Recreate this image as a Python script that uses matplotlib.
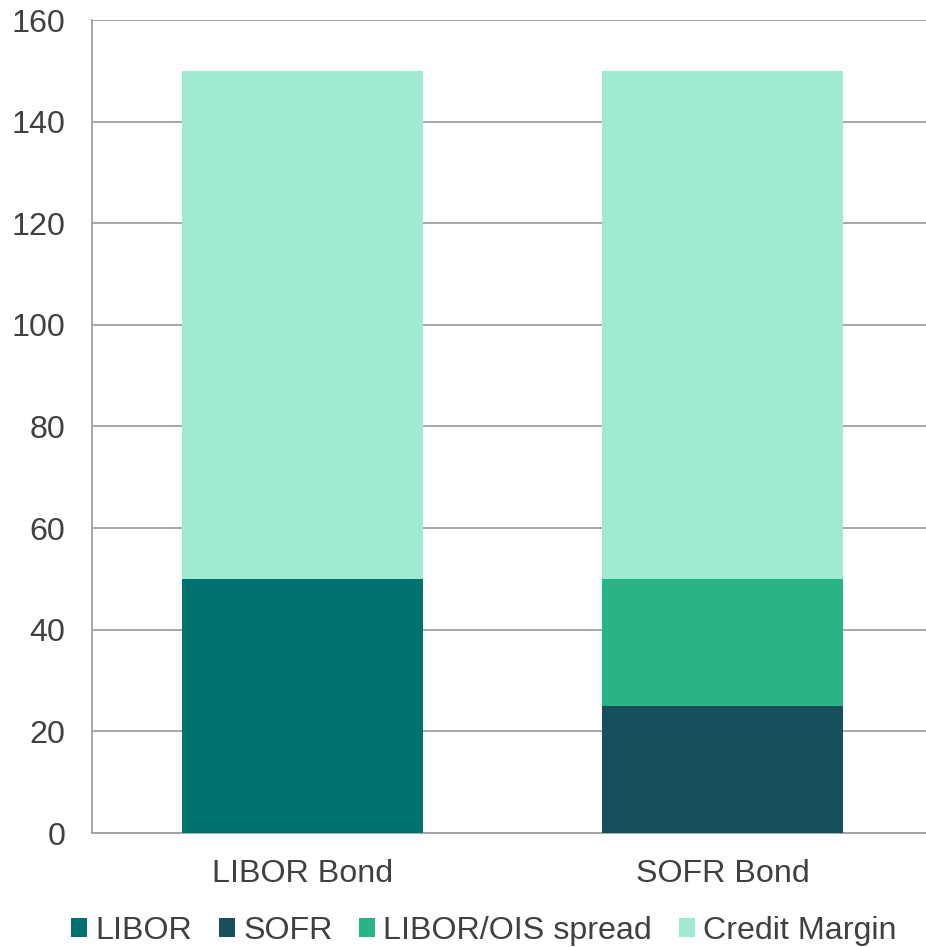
import matplotlib
matplotlib.use("Agg")
import matplotlib.pyplot as plt
import numpy as np

categories = ["LIBOR Bond", "SOFR Bond"]
series_names = ["LIBOR", "SOFR", "LIBOR/OIS spread", "Credit Margin"]
libor = [50, 0]
sofr = [0, 25]
spread = [0, 25]
credit = [100, 100]
yticks = [0, 20, 40, 60, 80, 100, 120, 140, 160]

colors = ["#007370", "#17505A", "#29B485", "#A0EAD0"]
text_color = "#404040"
grid_color = "#A0A0A0"

FS = 23.2
plt.rcParams['font.family'] = ['Liberation Sans', 'DejaVu Sans']
plt.rcParams['font.size'] = FS

fig = plt.figure(figsize=(9.26, 9.47), dpi=100)
ax = fig.add_axes([92/926, 1-833/947, (926-92)/926, (833-20)/947])

x = np.arange(len(categories))
width = 0.573
bottom = np.zeros(len(categories))
for name, vals, c in zip(series_names, [libor, sofr, spread, credit], colors):
    ax.bar(x, vals, width, bottom=bottom, color=c, label=name, zorder=3)
    bottom += np.array(vals)

ax.set_xlim(-0.5006, 1.483)
ax.set_ylim(0, 160)
ax.set_yticks(yticks)
ax.set_xticks(x)
ax.set_xticklabels(categories)
ax.yaxis.grid(True, color=grid_color, linewidth=1.3, zorder=0)
ax.set_axisbelow(True)
for s in ["top", "right"]:
    ax.spines[s].set_visible(False)
for s in ["left", "bottom"]:
    ax.spines[s].set_color(grid_color)
    ax.spines[s].set_linewidth(1.3)
ax.tick_params(axis='y', length=0, pad=19, colors=text_color, labelsize=FS)
ax.tick_params(axis='x', length=0, pad=19, colors=text_color, labelsize=FS)

handles, labels = ax.get_legend_handles_labels()
leg = fig.legend(handles, labels, loc='center', bbox_to_anchor=(484/926, 1-931/947),
                 ncol=4, frameon=False, handlelength=0.5, handleheight=0.5,
                 handletextpad=0.25, columnspacing=0.83, fontsize=FS,
                 borderaxespad=0, borderpad=0)
for t in leg.get_texts():
    t.set_color(text_color)

fig.savefig("out.png", dpi=100)
